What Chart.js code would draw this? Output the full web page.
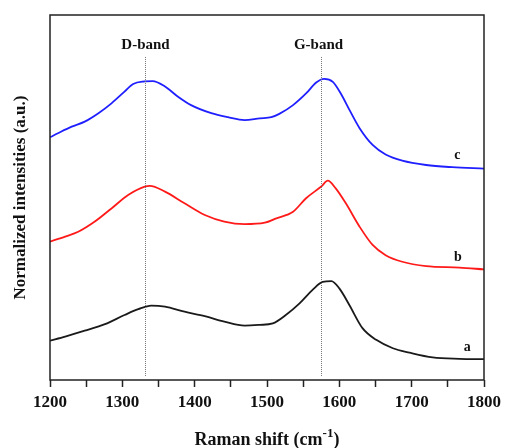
<!DOCTYPE html>
<html>
<head>
<meta charset="utf-8">
<script src="https://cdn.jsdelivr.net/npm/chart.js@4.4.1/dist/chart.umd.min.js"></script>
<style>
  html, body { margin: 0; padding: 0; background: #fff; }
  #wrap { width: 506px; height: 448px; }
</style>
</head>
<body>
<div id="wrap"><canvas id="ramanChart" width="506" height="448"></canvas></div>
<script>
// Raman spectra (normalized, offset)
const shiftA = [1200,1221,1248,1276,1303,1322,1340,1359,1386,1414,1441,1469,1490,1508,1526,1545,1563,1577,1589,1600,1614,1632,1651,1674,1697,1729,1766,1800];
const intensityA = [10.8,11.9,13.5,15.3,17.8,19.4,20.4,20.1,18.7,17.5,16.0,14.9,15.1,15.5,17.8,21.0,24.7,26.9,27.1,25.1,20.5,14.2,11.0,8.7,7.5,6.2,5.8,5.7];

const shiftB = [1200,1221,1239,1262,1285,1308,1331,1338,1359,1386,1414,1441,1469,1497,1513,1536,1554,1575,1584,1595,1609,1628,1646,1664,1687,1720,1766,1800];
const intensityB = [37.9,39.3,40.6,43.4,47.0,50.7,53.0,53.2,51.6,48.4,45.2,43.4,42.7,43.1,44.3,46.1,49.8,53.0,54.6,52.5,48.4,42.0,37.0,34.2,32.4,31.2,30.8,30.3];

const shiftC = [1200,1211,1230,1248,1267,1285,1303,1315,1331,1342,1359,1377,1395,1423,1446,1469,1490,1506,1517,1536,1554,1568,1579,1591,1602,1614,1628,1646,1664,1687,1720,1756,1800];
const intensityC = [66.5,67.6,69.4,70.8,73.1,75.8,79.0,81.1,81.8,81.9,80.4,77.6,75.3,73.1,72.0,71.2,71.7,72.0,72.9,75.3,78.5,81.5,82.5,81.7,78.5,74.0,69.0,64.4,61.8,60.1,58.9,58.3,57.9];

const bandNames = ['D-band', 'G-band'];
const bandShifts = [1332, 1575];
const seriesNames = ['a', 'b', 'c'];
const xTicks = [1200, 1300, 1400, 1500, 1600, 1700, 1800];

const serif = '"Liberation Serif", "Times New Roman", serif';

function toPoints(xs, ys) {
    return xs.map((x, i) => ({x: x, y: ys[i]}));
}

// frame, band markers, curve letters, x title with superscript
const decorPlugin = {
    id: 'decor',
    afterDraw(chart) {
        const ctx = chart.ctx;
        const a = chart.chartArea;
        const xs = chart.scales.x, ys = chart.scales.y;
        ctx.save();

        // dotted band lines + labels
        ctx.strokeStyle = '#777';
        ctx.lineWidth = 1;
        ctx.setLineDash([1, 1]);
        bandShifts.forEach((b, i) => {
            const px = Math.round(xs.getPixelForValue(b)) + 0.5;
            ctx.beginPath();
            ctx.moveTo(px, ys.getPixelForValue(88.5));
            ctx.lineTo(px, ys.getPixelForValue(0.8));
            ctx.stroke();
            ctx.fillStyle = '#111';
            ctx.font = 'bold 15px ' + serif;
            ctx.textAlign = 'center';
            ctx.textBaseline = 'middle';
            ctx.fillText(bandNames[i], px - (i ? 3 : 0), ys.getPixelForValue(91.8));
        });
        ctx.setLineDash([]);

        // curve letters
        const letterPos = [[1777, 8.8], [1764, 33.7], [1763, 61.6]];
        ctx.font = 'bold 14px ' + serif;
        ctx.fillStyle = '#111';
        seriesNames.forEach((s, i) => {
            ctx.fillText(s, xs.getPixelForValue(letterPos[i][0]), ys.getPixelForValue(letterPos[i][1]));
        });

        // frame
        ctx.strokeStyle = '#222';
        ctx.lineWidth = 1.5;
        ctx.strokeRect(a.left, a.top, a.right - a.left, a.bottom - a.top);

        // x title: Raman shift (cm-1)
        const main = 'Raman shift (cm';
        const sup = '-1';
        const close = ')';
        ctx.font = 'bold 18px ' + serif;
        const w1 = ctx.measureText(main).width;
        const w3 = ctx.measureText(close).width;
        ctx.font = 'bold 13px ' + serif;
        const w2 = ctx.measureText(sup).width;
        const cx = (a.left + a.right) / 2;
        let x0 = cx - (w1 + w2 + w3) / 2;
        const base = 445;
        ctx.textAlign = 'left';
        ctx.textBaseline = 'alphabetic';
        ctx.font = 'bold 18px ' + serif;
        ctx.fillText(main, x0, base);
        ctx.font = 'bold 13px ' + serif;
        ctx.fillText(sup, x0 + w1, base - 8);
        ctx.font = 'bold 18px ' + serif;
        ctx.fillText(close, x0 + w1 + w2, base);
        ctx.restore();
    }
};

const ctx = document.getElementById('ramanChart').getContext('2d');
new Chart(ctx, {
    type: 'line',
    data: {
        datasets: [
            {label: 'a', data: toPoints(shiftA, intensityA), borderColor: '#1a1a1a'},
            {label: 'b', data: toPoints(shiftB, intensityB), borderColor: '#ff1a1a'},
            {label: 'c', data: toPoints(shiftC, intensityC), borderColor: '#1f1fff'}
        ]
    },
    options: {
        responsive: false,
        animation: false,
        elements: {
            line: {borderWidth: 1.8, cubicInterpolationMode: 'monotone', fill: false},
            point: {radius: 0}
        },
        layout: {padding: {top: 15, right: 21, left: 0, bottom: 0}},
        plugins: {legend: {display: false}, tooltip: {enabled: false}},
        scales: {
            x: {
                type: 'linear',
                min: 1200,
                max: 1800,
                border: {display: false},
                grid: {drawOnChartArea: false, tickLength: 7, tickColor: '#222', tickWidth: 1.5},
                ticks: {
                    stepSize: 50,
                    autoSkip: false,
                    maxRotation: 0,
                    padding: 5,
                    color: '#111',
                    font: {family: serif, size: 17, weight: 'bold'},
                    callback: v => xTicks.includes(v) ? String(v) : ''
                },
                afterFit: s => { s.height = 68; }
            },
            y: {
                type: 'linear',
                min: 0,
                max: 100,
                border: {display: false},
                grid: {display: false},
                ticks: {display: false},
                title: {
                    display: true,
                    text: 'Normalized intensities (a.u.)',
                    color: '#111',
                    font: {family: serif, size: 17, weight: 'bold'},
                    padding: {top: 10, bottom: 0}
                },
                afterFit: s => { s.width = 50; }
            }
        }
    },
    plugins: [decorPlugin]
});
</script>
</body>
</html>
